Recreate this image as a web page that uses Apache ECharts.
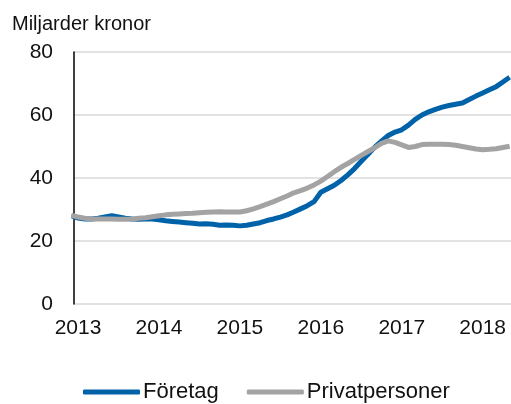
<!DOCTYPE html>
<html>
<head>
<meta charset="utf-8">
<script src="https://cdn.jsdelivr.net/npm/echarts@6/dist/echarts.min.js"></script>
<style>
  html, body { margin: 0; padding: 0; background: #fff; }
  #chart { width: 511px; height: 404px; }
</style>
</head>
<body>
<div id="chart"></div>
<script>
// månader, från december 2012
var months = [
  "2012-12",
  "2013-01", "2013-02", "2013-03", "2013-04", "2013-05", "2013-06", "2013-07", "2013-08", "2013-09", "2013-10", "2013-11", "2013-12",
  "2014-01", "2014-02", "2014-03", "2014-04", "2014-05", "2014-06", "2014-07", "2014-08", "2014-09", "2014-10", "2014-11", "2014-12",
  "2015-01", "2015-02", "2015-03", "2015-04", "2015-05", "2015-06", "2015-07", "2015-08", "2015-09", "2015-10", "2015-11", "2015-12",
  "2016-01", "2016-02", "2016-03", "2016-04", "2016-05", "2016-06", "2016-07", "2016-08", "2016-09", "2016-10", "2016-11", "2016-12",
  "2017-01", "2017-02", "2017-03", "2017-04", "2017-05", "2017-06", "2017-07", "2017-08", "2017-09", "2017-10", "2017-11", "2017-12",
  "2018-01", "2018-02", "2018-03", "2018-04", "2018-05"
];

var foretag = [
  28.0,
  27.3, 27.0, 27.0, 27.2, 27.6, 28.0, 27.6, 27.2, 27.0, 26.9, 27.0, 27.0,
  26.7, 26.4, 26.2, 26.0, 25.8, 25.6, 25.4, 25.5, 25.3, 25.0, 25.1, 25.0,
  24.8, 25.0, 25.4, 25.8, 26.5, 27.0, 27.6, 28.3, 29.2, 30.2, 31.2, 32.5,
  35.5, 36.6, 37.7, 39.2, 41.0, 43.0, 45.3, 47.5, 49.8, 51.7, 53.5, 54.6,
  55.3, 56.8, 58.6, 60.0, 61.0, 61.8, 62.5, 63.0, 63.4, 63.8, 64.9, 66.0,
  67.0, 68.0, 69.0, 70.5, 72.0
];

var privatpersoner = [
  28.2,
  27.6, 27.2, 27.0, 27.0, 27.0, 27.0, 26.9, 26.9, 27.0, 27.2, 27.4, 27.7,
  28.0, 28.3, 28.5, 28.6, 28.7, 28.8, 29.0, 29.1, 29.2, 29.3, 29.2, 29.2,
  29.2, 29.6, 30.2, 30.9, 31.7, 32.5, 33.4, 34.3, 35.3, 36.0, 36.8, 37.8,
  39.0, 40.5, 42.0, 43.4, 44.6, 45.9, 47.2, 48.4, 49.6, 51.0, 51.8, 51.3,
  50.5, 49.7, 50.0, 50.6, 50.7, 50.7, 50.7, 50.6, 50.4, 50.0, 49.6, 49.2,
  49.0, 49.1, 49.3, 49.7, 50.1
];

var yearTicks = [2013, 2014, 2015, 2016, 2017, 2018];

// månad -> decimalår
function toYear(m) {
  var p = m.split("-");
  return Number(p[0]) + (Number(p[1]) - 1) / 12;
}
function pairs(vals) {
  return months.map(function (m, i) { return [toYear(m), vals[i]]; });
}

var font = "'Liberation Sans', Arial, Helvetica, sans-serif";
var chart = echarts.init(document.getElementById("chart"));

var option = {
  animation: false,
  title: {
    text: "Miljarder kronor",
    left: 7,
    top: 9,
    textStyle: { fontFamily: font, fontSize: 20, fontWeight: "normal", color: "#111" }
  },
  grid: { left: 74, right: 0, top: 52, bottom: 100 },
  legend: {
    left: 78,
    top: 376,
    icon: "roundRect",
    itemWidth: 57,
    itemHeight: 5,
    itemGap: 28,
    textStyle: { fontFamily: font, fontSize: 22, color: "#111", padding: [0, 0, 0, -2] },
    data: ["Företag", "Privatpersoner"]
  },
  xAxis: {
    type: "value",
    min: 2012.95,
    max: 2018.35,
    axisLine: { show: false },
    axisTick: { show: false },
    splitLine: { show: false },
    axisLabel: {
      customValues: yearTicks,
      margin: 14,
      fontFamily: font,
      fontSize: 21,
      color: "#111",
      formatter: function (v) { return String(Math.round(v)); }
    }
  },
  yAxis: {
    type: "value",
    min: 0,
    max: 80,
    interval: 20,
    axisLine: { show: true, lineStyle: { color: "#000", width: 1.5 } },
    axisTick: { show: false },
    splitLine: { lineStyle: { color: "#d9d9d9", width: 1.5 } },
    axisLabel: { margin: 21, fontFamily: font, fontSize: 21, color: "#111" }
  },
  series: [
    {
      name: "Företag",
      type: "line",
      data: pairs(foretag),
      showSymbol: false,
      color: "#0062a9",
      lineStyle: { width: 5, color: "#0062a9" }
    },
    {
      name: "Privatpersoner",
      type: "line",
      data: pairs(privatpersoner),
      showSymbol: false,
      color: "#a3a3a3",
      lineStyle: { width: 5, color: "#a3a3a3" }
    }
  ]
};

option && chart.setOption(option);
</script>
</body>
</html>
